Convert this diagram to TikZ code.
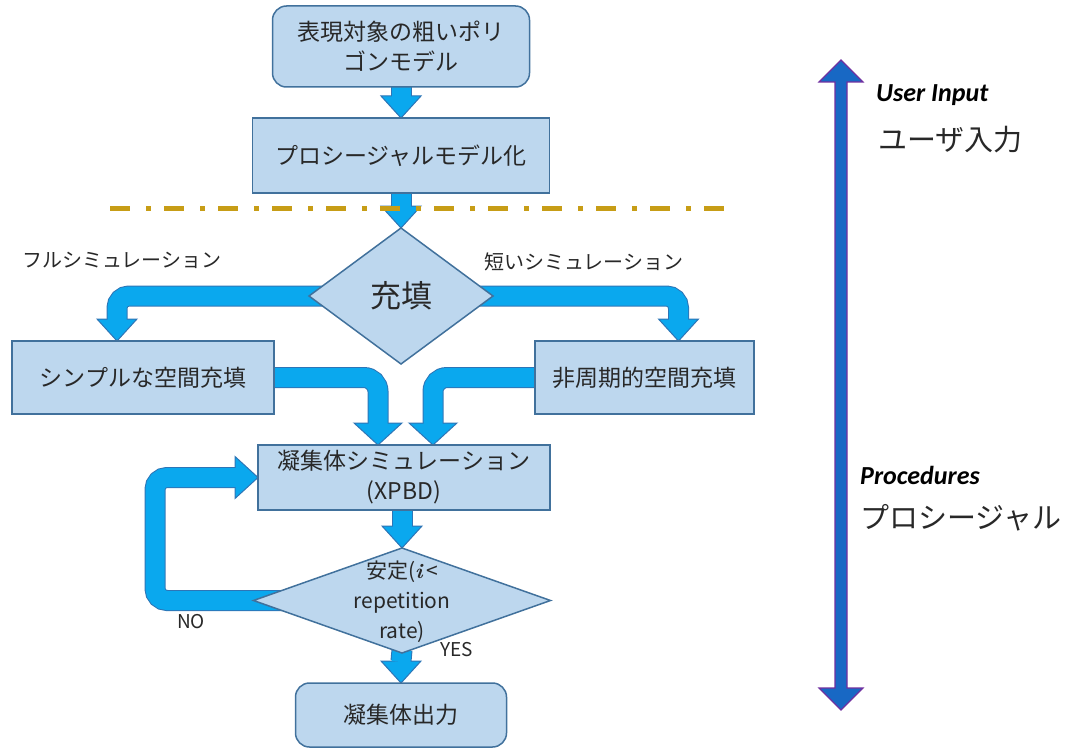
\documentclass[tikz,border=0pt]{standalone}
\usepackage{fontspec}
\newfontfamily\jp{Noto Sans CJK JP}
\newfontfamily\carl{Carlito}
\usetikzlibrary{shapes.geometric,backgrounds,calc}
\definecolor{boxfill}{RGB}{189,215,238}
\definecolor{boxedge}{RGB}{65,113,156}
\definecolor{arrowfill}{RGB}{10,168,238}
\definecolor{arrowedge}{RGB}{46,117,182}
\definecolor{bigfill}{RGB}{24,104,196}
\definecolor{bigedge}{RGB}{112,48,160}
\definecolor{dashc}{RGB}{199,157,22}
\definecolor{txt}{RGB}{40,40,40}
\newcommand\headD[2][20]{\filldraw[headst] ([shift={(-#1pt,22pt)}]#2) -- (#2) -- ([shift={(#1pt,22pt)}]#2) -- cycle;}
\newcommand\headR[2][21]{\filldraw[headst] ([shift={(-23pt,#1pt)}]#2) -- (#2) -- ([shift={(-23pt,-#1pt)}]#2) -- cycle;}
\newcommand\fatdown[2]{%
  \coordinate (tmpt) at (#2);
  \draw[shaftO] (#1) -- ([yshift=22pt]tmpt);
  \headD{tmpt}
  \draw[shaftI] (#1) -- ([yshift=21pt]tmpt);}
\begin{document}
\begin{tikzpicture}[x=1pt,y=-1pt,
  box/.style={draw=boxedge, fill=boxfill, line width=1.5pt, inner sep=0pt, outer sep=0pt,
    text=txt, font=\jp\fontsize{23}{30}\selectfont, align=center},
  rbox/.style={box, rounded corners=14pt},
  dia/.style={diamond, draw=boxedge, fill=boxfill, line width=1.5pt, inner sep=0pt, outer sep=0pt},
  shaftO/.style={draw=arrowedge, line width=21pt},
  shaftI/.style={draw=arrowfill, line width=19pt},
  headst/.style={fill=arrowfill, draw=arrowedge, line width=1pt, line join=miter},
  lbl/.style={text=txt, inner sep=0pt, anchor=west},
  jplbl/.style={lbl, font=\jp\fontsize{20}{24}\selectfont},
  enlbl/.style={lbl, font=\carl\bfseries\itshape\fontsize{26}{30}\selectfont, text=black}
]
\useasboundingbox (0,0) rectangle (1076,749);

% nodes
\node[rbox, minimum width=257pt, minimum height=81pt] (b1) at (401,46.5) {表現対象の粗いポリ\\ゴンモデル};
\node[box, minimum width=297pt, minimum height=75pt] (b2) at (401,155.5) {プロシージャルモデル化};
\node[dia, minimum width=184pt, minimum height=136pt] (d1) at (401,296) {};
\node[text=txt, inner sep=0pt, font=\jp\fontsize{31}{34}\selectfont] (d1t) at (d1.center) {充填};
\node[box, minimum width=262pt, minimum height=73pt] (b3) at (143,377.5) {シンプルな空間充填};
\node[box, minimum width=219pt, minimum height=73pt] (b4) at (644.5,377.5) {非周期的空間充填};
\node[box, minimum width=292pt, minimum height=65pt] (b5) at (404,477.5) {凝集体シミュレーション\\(XPBD)};
\node[dia, minimum width=297pt, minimum height=105pt] (d2) at (402,600.5) {};
\node[text=txt, inner sep=0pt, align=center, font=\jp\fontsize{21}{30}\selectfont] (d2t) at ([yshift=-1pt]d2.center)
  {安定({\normalfont\bfseries\itshape i}\,<\\repetition\\rate)};
\node[rbox, minimum width=211pt, minimum height=64pt] (b6) at (401,715) {凝集体出力};

% labels
\node[jplbl] (lfull) at (22,260) {フルシミュレーション};
\node[jplbl] (lshort) at (484,262) {短いシミュレーション};
\node[lbl, font=\jp\fontsize{19}{22}\selectfont] (lno) at (177,622) {NO};
\node[lbl, font=\jp\fontsize{19}{22}\selectfont] (lyes) at (440,650) {YES};
\node[enlbl] (luser) at (876,95) {User Input};
\node[lbl, font=\jp\fontsize{29}{34}\selectfont] (luserjp) at (878,140) {ユーザ入力};
\node[enlbl] (lproc) at (860,475) {Procedures};
\node[lbl, font=\jp\fontsize{29}{34}\selectfont] (lprocjp) at (860,518) {プロシージャル};

% fat arrows behind the nodes
\begin{scope}[on background layer]
  \fatdown{[yshift=3pt]b1.south}{b2.north}
  \fatdown{[yshift=3pt]b2.south}{d1.north}
  % left branch
  \coordinate (t3) at ([xshift=-26pt]b3.north);
  \draw[shaftO, rounded corners=12pt] (d1.center) -| ([yshift=22pt]t3);
  \headD{t3}
  \draw[shaftI, rounded corners=12pt] (d1.center) -| ([yshift=21pt]t3);
  % right branch
  \coordinate (t4) at ([xshift=34pt]b4.north);
  \draw[shaftO, rounded corners=12pt] (d1.center) -| ([yshift=22pt]t4);
  \headD{t4}
  \draw[shaftI, rounded corners=12pt] (d1.center) -| ([yshift=21pt]t4);
  % merge from left box
  \coordinate (t5) at ([xshift=-26pt]b5.north);
  \draw[shaftO, rounded corners=14pt] (b3.center) -| ([yshift=22pt]t5);
  \headD[24]{t5}
  \draw[shaftI, rounded corners=14pt] (b3.center) -| ([yshift=21pt]t5);
  % merge from right box
  \coordinate (t6) at ([xshift=29pt]b5.north);
  \draw[shaftO, rounded corners=14pt] (b4.center) -| ([yshift=22pt]t6);
  \headD[24]{t6}
  \draw[shaftI, rounded corners=14pt] (b4.center) -| ([yshift=21pt]t6);
  % simulation -> stable?
  \fatdown{[yshift=3pt]b5.south -| d2.north}{d2.north}
  % NO loop
  \coordinate (t7) at (b5.west);
  \coordinate (c7) at ([xshift=-103pt]b5.west);
  \draw[shaftO, rounded corners=12pt] (d2.center) -| (c7) -- ([xshift=-23pt]t7);
  \headR{t7}
  \draw[shaftI, rounded corners=12pt] (d2.center) -| (c7) -- ([xshift=-22pt]t7);
  % YES -> output
  \fatdown{[yshift=3pt]d2.south}{b6.north}
\end{scope}

% separator
\coordinate (sepL) at (110,208);
\coordinate (sepR) at (733,208);
\draw[dashc, line width=5pt, dash pattern=on 20pt off 16pt on 5pt off 13pt] (sepL) -- (sepR);

% big double arrow
\coordinate (ua) at (841,60);
\coordinate (ub) at (841,710);
\filldraw[fill=bigfill, draw=bigedge, line width=1.2pt, line join=miter]
  (ua) -- ++(22,22) -- ++(-16,0) -- ($(ub)+(6,-22)$) -- ++(16,0) -- (ub)
  -- ++(-22,-22) -- ++(16,0) -- ($(ua)+(-6,22)$) -- ++(-16,0) -- cycle;
\end{tikzpicture}
\end{document}
